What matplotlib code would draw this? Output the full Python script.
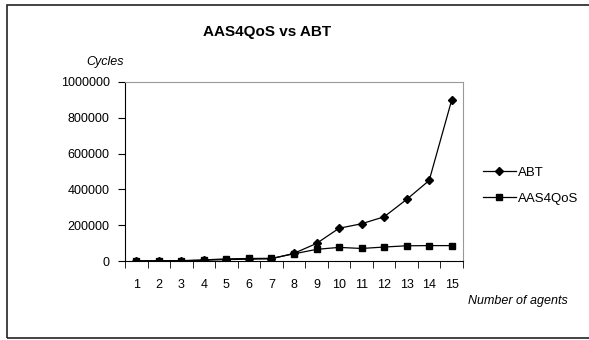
"""AAS4QoS vs ABT cycles chart."""

import matplotlib
matplotlib.use("Agg")
import matplotlib.pyplot as plt
from matplotlib.patches import Rectangle
import numpy as np

AGENTS = list(range(1, 16))
ABT = [500, 1000, 1500, 4000, 8000, 10000, 12000, 43000, 98000, 183000, 208000, 247000, 344000, 450000, 900000]
AAS4QOS = [1000, 1500, 2000, 6000, 12000, 14000, 15000, 40000, 65000, 76000, 70000, 78000, 85000, 86000, 86000]
Y_TICKS = [0, 200000, 400000, 600000, 800000, 1000000]

plt.rcParams["font.family"] = ["Liberation Sans", "DejaVu Sans"]

W, H = 589, 340
fig = plt.figure(figsize=(W / 100, H / 100), dpi=100)
fig.patch.set_facecolor("white")

# outer chart frame (right edge falls off the picture)
fig.patches.append(Rectangle((7 / W, 2 / H), 1.1, (335 - 2) / H, transform=fig.transFigure,
                             fill=False, edgecolor="#222222", linewidth=1.2))

ax = fig.add_axes([125 / W, (H - 261) / H, 338 / W, 179 / H])
x = np.arange(len(AGENTS))
ax.plot(x, ABT, color="black", lw=0.9, marker="D", ms=3.8, label="ABT")
ax.plot(x, AAS4QOS, color="black", lw=0.9, marker="s", ms=4.5, label="AAS4QoS")

ax.set_xlim(-0.5, len(AGENTS) - 0.5)
ax.set_ylim(0, 1000000)
ax.set_yticks(Y_TICKS)
ax.set_yticklabels([str(v) for v in Y_TICKS], fontsize=9)
ax.set_xticks(x)
ax.set_xticklabels([str(a) for a in AGENTS], fontsize=9)
ax.set_xticks(np.arange(-0.5, len(AGENTS), 1.0), minor=True)
ax.tick_params(axis="x", which="major", length=0, pad=13)
ax.tick_params(axis="x", which="minor", length=5, direction="out")
ax.tick_params(axis="y", length=5, direction="out", pad=6)
for side in ("top", "right"):
    ax.spines[side].set_color("#999999")
for side in ("left", "bottom"):
    ax.spines[side].set_color("black")

fig.text(267 / W, 1 - 32 / H, "AAS4QoS vs ABT", ha="center", va="center", fontsize=11, fontweight="bold")
fig.text(105 / W, 1 - 62 / H, "Cycles", ha="center", va="center", fontsize=9, style="italic")
fig.text(568 / W, 1 - 301 / H, "Number of agents", ha="right", va="center", fontsize=9, style="italic")

fig.legend(loc="center left", bbox_to_anchor=(476 / W, 1 - 185.5 / H), frameon=False,
           fontsize=9.5, handlelength=2.5, handletextpad=0.2, labelspacing=1.05, borderpad=0)

fig.savefig("out.png", dpi=100)
